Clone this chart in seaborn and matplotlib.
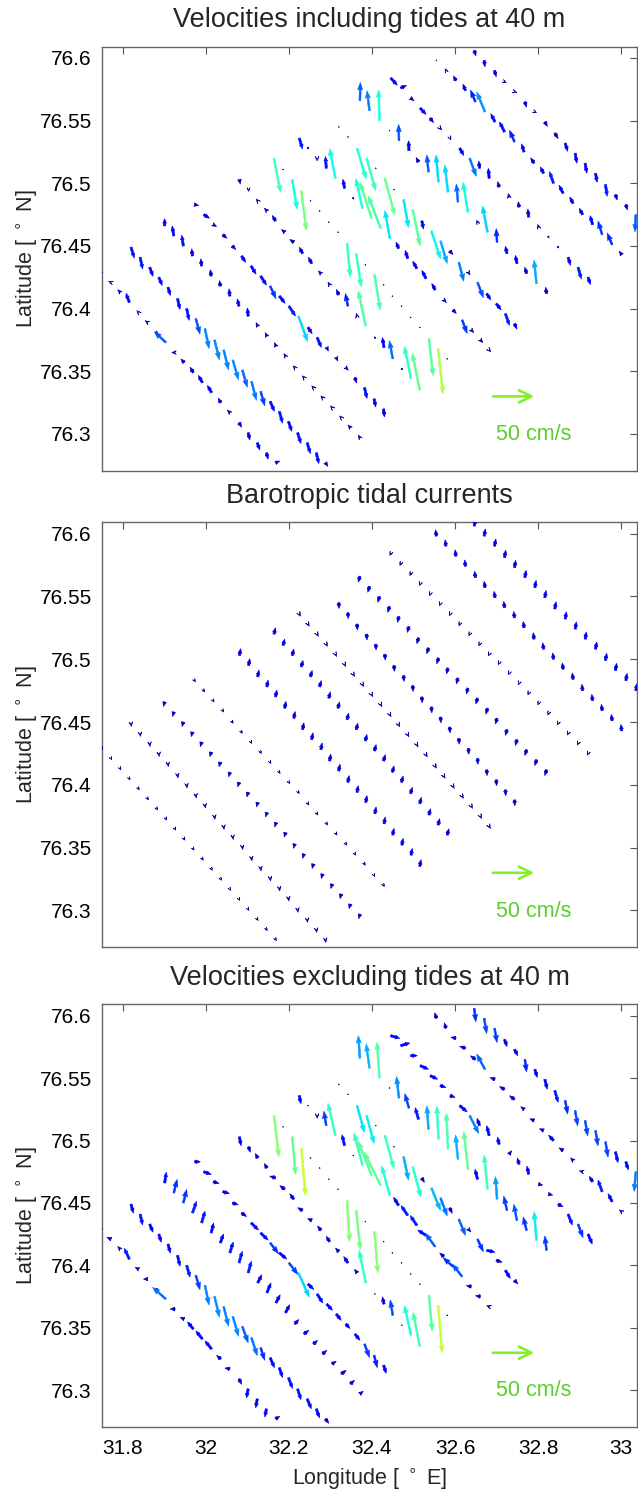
import numpy as np
import pandas as pd
import matplotlib
matplotlib.use("Agg")
import matplotlib.pyplot as plt
import seaborn as sns

# ---------------- text / ticks ----------------
TITLES = ["Velocities including tides at 40 m",
          "Barotropic tidal currents",
          "Velocities excluding tides at 40 m"]
XTICKS = [31.8, 32.0, 32.2, 32.4, 32.6, 32.8, 33.0]
XTICK_LABELS = ["31.8", "32", "32.2", "32.4", "32.6", "32.8", "33"]
YTICKS = [76.3, 76.35, 76.4, 76.45, 76.5, 76.55, 76.6]
YTICK_LABELS = ["76.3", "76.35", "76.4", "76.45", "76.5", "76.55", "76.6"]
KEY_SPEED = 50          # cm/s
KEY_LABEL = "50 cm/s"

# ---------------- station positions (12 transects) ----------------
STN_LON = [
    [31.750, 31.772, 31.794, 31.816, 31.838, 31.860, 31.882, 31.904, 31.926, 31.948, 31.970, 31.992, 32.014, 32.036, 32.058, 32.080, 32.102, 32.124, 32.146, 32.168, 32.190],
    [31.820, 31.842, 31.865, 31.887, 31.909, 31.932, 31.954, 31.976, 31.998, 32.021, 32.043, 32.065, 32.088, 32.110, 32.132, 32.155, 32.177, 32.199, 32.221, 32.244, 32.266, 32.288],
    [31.901, 31.923, 31.946, 31.968, 31.990, 32.013, 32.035, 32.058, 32.080, 32.102, 32.125, 32.147, 32.169, 32.192, 32.214, 32.236, 32.259, 32.281, 32.304, 32.326, 32.348, 32.371],
    [31.973, 31.995, 32.018, 32.041, 32.064, 32.086, 32.109, 32.132, 32.155, 32.177, 32.200, 32.223, 32.246, 32.268, 32.291, 32.314, 32.337, 32.359, 32.382, 32.405, 32.428],
    [32.081, 32.103, 32.125, 32.147, 32.168, 32.190, 32.212, 32.233, 32.255, 32.277, 32.298, 32.320, 32.342, 32.364, 32.385, 32.407, 32.429, 32.450, 32.472, 32.494, 32.515],
    [32.164, 32.186, 32.208, 32.230, 32.252, 32.274, 32.296, 32.318, 32.340, 32.362, 32.384, 32.406, 32.428, 32.449, 32.471, 32.493, 32.515, 32.537, 32.559, 32.581],
    [32.225, 32.246, 32.268, 32.290, 32.312, 32.334, 32.355, 32.377, 32.399, 32.421, 32.443, 32.464, 32.486, 32.508, 32.530, 32.552, 32.573, 32.595, 32.617, 32.639, 32.661, 32.682],
    [32.320, 32.342, 32.364, 32.387, 32.409, 32.431, 32.453, 32.476, 32.498, 32.520, 32.543, 32.565, 32.587, 32.609, 32.632, 32.654, 32.676, 32.699, 32.721, 32.743],
    [32.371, 32.394, 32.418, 32.442, 32.465, 32.489, 32.512, 32.536, 32.560, 32.583, 32.607, 32.631, 32.654, 32.678, 32.701, 32.725, 32.749, 32.772, 32.796, 32.820],
    [32.445, 32.469, 32.493, 32.516, 32.540, 32.564, 32.588, 32.611, 32.635, 32.659, 32.682, 32.706, 32.730, 32.754, 32.777, 32.801, 32.825, 32.848, 32.872, 32.896, 32.920],
    [32.555, 32.578, 32.602, 32.625, 32.649, 32.672, 32.696, 32.719, 32.743, 32.766, 32.790, 32.813, 32.837, 32.860, 32.884, 32.907, 32.931, 32.954, 32.978, 33.001],
    [32.646, 32.670, 32.695, 32.719, 32.743, 32.768, 32.792, 32.816, 32.840, 32.865, 32.889, 32.913, 32.938, 32.962, 32.986, 33.011, 33.035],
]
STN_LAT = [
    [76.429, 76.421, 76.413, 76.405, 76.397, 76.389, 76.381, 76.373, 76.365, 76.357, 76.349, 76.341, 76.333, 76.325, 76.317, 76.309, 76.301, 76.293, 76.285, 76.277, 76.269],
    [76.449, 76.441, 76.433, 76.425, 76.417, 76.408, 76.400, 76.392, 76.384, 76.375, 76.367, 76.359, 76.351, 76.342, 76.334, 76.326, 76.318, 76.310, 76.301, 76.293, 76.285, 76.277],
    [76.466, 76.458, 76.450, 76.442, 76.434, 76.426, 76.418, 76.410, 76.402, 76.394, 76.386, 76.378, 76.370, 76.362, 76.353, 76.345, 76.337, 76.329, 76.321, 76.313, 76.305, 76.297],
    [76.483, 76.475, 76.467, 76.459, 76.450, 76.442, 76.434, 76.426, 76.418, 76.410, 76.402, 76.394, 76.385, 76.377, 76.369, 76.361, 76.353, 76.345, 76.337, 76.328, 76.320],
    [76.503, 76.495, 76.486, 76.478, 76.470, 76.461, 76.453, 76.444, 76.436, 76.428, 76.419, 76.411, 76.402, 76.394, 76.386, 76.377, 76.369, 76.360, 76.352, 76.344, 76.335],
    [76.520, 76.511, 76.503, 76.494, 76.486, 76.478, 76.469, 76.461, 76.452, 76.444, 76.435, 76.427, 76.419, 76.410, 76.402, 76.393, 76.385, 76.376, 76.368, 76.360],
    [76.536, 76.528, 76.520, 76.512, 76.504, 76.496, 76.488, 76.480, 76.472, 76.464, 76.456, 76.448, 76.440, 76.432, 76.424, 76.415, 76.407, 76.399, 76.391, 76.383, 76.375, 76.367],
    [76.545, 76.537, 76.528, 76.520, 76.512, 76.504, 76.495, 76.487, 76.479, 76.470, 76.462, 76.454, 76.446, 76.437, 76.429, 76.421, 76.412, 76.404, 76.396, 76.388],
    [76.566, 76.558, 76.550, 76.542, 76.534, 76.526, 76.517, 76.509, 76.501, 76.493, 76.485, 76.477, 76.469, 76.461, 76.453, 76.444, 76.436, 76.428, 76.420, 76.412],
    [76.584, 76.576, 76.568, 76.560, 76.552, 76.544, 76.536, 76.528, 76.520, 76.512, 76.504, 76.497, 76.489, 76.481, 76.473, 76.465, 76.457, 76.449, 76.441, 76.433, 76.425],
    [76.598, 76.590, 76.582, 76.574, 76.565, 76.557, 76.549, 76.541, 76.533, 76.525, 76.516, 76.508, 76.500, 76.492, 76.484, 76.475, 76.467, 76.459, 76.451, 76.443],
    [76.606, 76.598, 76.590, 76.581, 76.573, 76.565, 76.557, 76.549, 76.540, 76.532, 76.524, 76.516, 76.508, 76.499, 76.491, 76.483, 76.475],
]

# ---------------- velocities including tides (cm/s) ----------------
U_TOTAL = [
    [1, -3, -3, -4, -2, -3, 1, -14, -4, -4, -4, -5, -5, -3, -3, 3, 2, 3, 2, 5, 1],
    [4, 3, 4, 4, 3, 3, 3, 5, 5, 6, 6, 7, 6, 6, 5, 5, 4, 4, 4, 4, 3, 3],
    [0, -2, -2, -1, -1, -1, -1, -1, -2, -1, -2, -2, -2, -2, -2, -2, -2, -2, -2, -2, -3, -2],
    [5, 7, 4, 5, 4, 5, 6, 7, 7, 7, 8, 11, 5, 5, 2, 2, 3, 2, 3, 2, 1],
    [1, 0, -2, -3, -4, -4, -5, -4, -4, -3, -2, -3, -3, -1, -9, 0, -2, -4, 0, -8, -9],
    [8, 0.4, 6, 6, 0.4, 0.4, 0.4, 0.4, 4, 6, 0.4, 7, 0.4, 0.4, 0.4, 0.4, 0.4, 5, 6, 0.4],
    [4, 0.4, 0, -1, -7, -2, 0.4, -8, -14, -15, -6, -3, -3, -5, -5, -4, 3, 4, 6, 3, 3, 2],
    [0.4, 0.4, 11, 11, 0.4, 12, 0.4, 6, 9, 2, 11, 8, 4, 6, 2, 7, 5, 6, 5, 3],
    [0.5, -3, -1, 0.3, -0.4, -0.4, -3, -2, -3, -4, -2, -6, -1, -6, -1, -2, -2, -2, -3, -1],
    [8, 7, 4, 7, 4, 2, 1, 5, 8, -1, -1, -2, -1, -1, -1, -1, 0.5, 0.5, 3, 4, 3],
    [0.3, -1, -3, -3, -6, -10, -5, -6, -6, -3, -4, -4, -5, -5, -4, -4, -3, -5, -6, -3],
    [2, 1, 2, 2, 3, 2, 2, 3, 4, 3, 2, 2, 2, 2, 2, 2, -1],
]
V_TOTAL = [
    [0, 1, 3, 10, 2, 2, -1, 12, 0, 4, 6, 8, 8, 5, 3, -5, -8, -8, -7, 2, -1],
    [-12, -13, -10, -9, -9, -12, -13, -17, -22, -22, -22, -22, -19, -21, -16, -11, -13, -11, -12, -12, -12, -4],
    [8, 11, 12, 8, 8, 7, 6, 8, 8, 9, 4, 4, 4, 3, 2, 2, 2, 2, 2, 2, 3, 3],
    [-1, -4, -2, -4, -4, -7, -9, -10, -14, -8, -11, -28, -7, -11, -4, -4, -3, -6, -12, -9, -9],
    [-5, -2, 2, 3, 6, 3, 3, 7, 7, 3, 3, 6, 14, 3, 39, 1, 11, 20, 1, 36, 41],
    [-38, -0.6, -33, -44, -0.6, -0.6, -0.6, -0.6, -37, -37, -0.6, -39, -0.6, -0.6, -0.6, -0.6, -0.6, -41, -50, -0.6],
    [-12, -1, -3, 13, 33, 10, -1, 33, 40, 36, 31, 7, 9, 8, 9, 7, -3, -4, -15, -3, -3, -2],
    [-0.6, -0.6, -34, -36, -0.6, -41, -0.6, -31, -40, -9, -31, -25, -4, -21, -3, -17, -7, -7, -13, -6],
    [20, 22, 34, 0.5, 18, 11, 5, 19, 30, 30, 20, 33, 2, 29, 15, 8, 9, 7, 26, 7],
    [-8, 3, -3, -7, -5, -2, -2, -8, -20, 8, 11, 6, 4, 6, 9, 3, -1, -1, -9, -13, -8],
    [0.5, 2, 5, 7, 13, 22, 9, 11, 13, 9, 6, 7, 13, 9, 7, 7, 10, 15, 13, 4],
    [-6, -7, -7, -1, -1, -6, -1, -5, -6, -9, -11, -11, -10, -13, -6, -6, -19],
]

# ---------------- barotropic tidal currents (cm/s) ----------------
U_TIDE = [
    [1, 1, 1, 1, 1, 1, 1, 1, 1, 1, 1, 1, 1, 1, 1, 1, 1, 1, 1, 1, 1],
    [0.5, 0.5, 0.5, 0.5, 0.5, 0.5, 0.5, 0.5, 0.5, 0.5, 0.5, 0.5, 0.5, 0.5, 0.5, 0.5, 0.5, 0.5, 0.5, 0.5, 0.5, 0.5],
    [-1.5, -1.5, -1.5, -1.5, -1.5, -1.5, -1.5, -1.5, -1.5, -1.5, -1.5, -1.5, -1.5, -1.5, -1.5, -1.5, -1.5, -1.5, -1.5, -1.5, -1.5, -1.5],
    [1, 1, 1, 1, 1, 1, 1, 1, 1, 1, 1, 1, 1, 1, 1, 1, 1, 1, 1, 1, 1],
    [1.5, 1.5, 1.5, 1.5, 1.5, 1.5, 1.5, 1.5, 1.5, 1.5, 1.5, 1.5, 1.5, 1.5, 1.5, 1.5, 1.5, 1.5, 1.5, 1.5, 1.5],
    [2, 2, 2, 2, 2, 2, 2, 2, 2, 2, 2, 2, 2, 2, 2, 2, 2, 2, 2, 2],
    [1.5, 1.5, 1.5, 1.5, 1.5, 1.5, 1.5, 1.5, 1.5, 1.5, 1.5, 1.5, 1.5, 1.5, 1.5, 1.5, 1.5, 1.5, 1.5, 1.5, 1.5, 1.5],
    [0.5, 0.5, 0.5, 0.5, 0.5, 0.5, 0.5, 0.5, 0.5, 0.5, 0.5, 0.5, 0.5, 0.5, 0.5, 0.5, 0.5, 0.5, 0.5, 0.5],
    [-2, -2, -2, -2, -2, -2, -2, -2, -2, -2, -2, -2, -2, -2, -2, -2, -2, -2, -2, -2],
    [-1, -1, -1, -1, -1, -1, -1, -1, -1, -1, -1, -1, -1, -1, -1, -1, -1, -1, -1, -1, -1],
    [-1, -1, -1, -1, -1, -1, -1, -1, -1, -1, -1, -1, -1, -1, -1, -1, -1, -1, -1, -1],
    [1.5, 1.5, 1.5, 1.5, 1.5, 1.5, 1.5, 1.5, 1.5, 1.5, 1.5, 1.5, 1.5, 1.5, 1.5, 1.5, 1.5],
]
V_TIDE = [
    [-1.5, -1.5, -1.5, -1.5, -1.5, -1.5, -1.5, -1.5, -1.5, -1.5, -1.5, -1.5, -1.5, -1.5, -1.5, -1.5, -1.5, -1.5, -1.5, -1.5, -1.5],
    [-3.5, -3.5, -3.5, -3.5, -3.5, -3.5, -3.5, -3.5, -3.5, -3.5, -3.5, -3.5, -3.5, -3.5, -3.5, -3.5, -3.5, -3.5, -3.5, -3.5, -3.5, -3.5],
    [-5, -5, -5, -5, -5, -5, -5, -5, -5, -5, -5, -5, -5, -5, -5, -5, -5, -5, -5, -5, -5, -5],
    [-1.5, -1.5, -1.5, -1.5, -1.5, -1.5, -1.5, -1.5, -1.5, -1.5, -1.5, -1.5, -1.5, -1.5, -1.5, -1.5, -1.5, -1.5, -1.5, -1.5, -1.5],
    [7.5, 7.5, 7.5, 7.5, 7.5, 7.5, 7.5, 7.5, 7.5, 7.5, 7.5, 7.5, 7.5, 7.5, 7.5, 7.5, 7.5, 7.5, 7.5, 7.5, 7.5],
    [7, 7, 7, 7, 7, 7, 7, 7, 7, 7, 7, 7, 7, 7, 7, 7, 7, 7, 7, 7],
    [-2.5, -2.5, -2.5, -2.5, -2.5, -2.5, -2.5, -2.5, -2.5, -2.5, -2.5, -2.5, -2.5, -2.5, -2.5, -2.5, -2.5, -2.5, -2.5, -2.5, -2.5, -2.5],
    [-6.5, -6.5, -6.5, -6.5, -6.5, -6.5, -6.5, -6.5, -6.5, -6.5, -6.5, -6.5, -6.5, -6.5, -6.5, -6.5, -6.5, -6.5, -6.5, -6.5],
    [-6.5, -6.5, -6.5, -6.5, -6.5, -6.5, -6.5, -6.5, -6.5, -6.5, -6.5, -6.5, -6.5, -6.5, -6.5, -6.5, -6.5, -6.5, -6.5, -6.5],
    [-2, -2, -2, -2, -2, -2, -2, -2, -2, -2, -2, -2, -2, -2, -2, -2, -2, -2, -2, -2, -2],
    [7, 7, 7, 7, 7, 7, 7, 7, 7, 7, 7, 7, 7, 7, 7, 7, 7, 7, 7, 7],
    [8, 8, 8, 8, 8, 8, 8, 8, 8, 8, 8, 8, 8, 8, 8, 8, 8],
]

# ---------------- velocities excluding tides (cm/s) ----------------
U_RESID = [
    [0.5, -5, -3, -6, -4, -5, -1, -16, -6, -5, -7, -8, -8, -5, -6, 3, -2, -2, -2, 5, 2],
    [3, 3, 4, 3, 3, 3, 4, 5, 5, 6, 6, 7, 7, 7, 5, 5, 4, 5, 4, 5, 4, 4],
    [2, 4, 4, 5, 4, 3, 4, 4, 4, 4, 5, 5, 5, 5, 5, 6, 5, 5, 5, 6, 5, 4],
    [7, 9, 7, 8, 7, 6, 9, 9, 10, 9, 11, 13, 7, 7, 7, 6, 5, 6, 6, 4, 3],
    [2, 2, -3, -3, -7, -6, -5, -6, -5, -4, -4, -4, -5, -3, -8, 0.3, -2, -3, 0.3, -8, -8],
    [6, 0.4, 4, 5, 0.4, 0.4, 0.4, 0.4, 3, 5, 0.4, 4, 0.4, 0.4, 0.4, 0.4, 0.4, 4, 5, 0.4],
    [2, 0.4, 0, -3, -9, -3, 0.4, -10, -16, -20, -10, -6, -8, -8, -10, -12, -5, -12, -12, -6, -6, -3],
    [0.4, 0.4, 9, 9, 0.4, 11, 0.4, 6, 10, 3, 11, 8, 3, 8, 3, 7, 10, 7, 6, 4],
    [-2, -4, -3, 0.3, -3, -5, -4, -2, -2, -2, -3, -5, -3, -4, -2, -4, -4, -4, -3, -2],
    [11, 11, 8, 10, 9, 7, 6, 9, 11, -3, -3, -2, 3, -2, -2, 5, 5, 6, 5, 6, 5],
    [-2, -2, -6, -7, -6, -10, -6, -6, -6, -4, -5, -5, -6, -5, -3, -4, -4, -5, -5, -3],
    [2, 3, 3, 3, 4, 2, 3, 3, 4, 3, 3, 3, 3, 3, 3, 3, -2],
]
V_RESID = [
    [0.3, 2, 3, 12, 2, 0, 1, 13, 0, 2, 8, 9, 9, 4, 1, -6, -10, -10, -9, 3, 1],
    [-10, -12, -9, -9, -10, -12, -13, -16, -22, -23, -22, -22, -18, -20, -14, -11, -11, -12, -12, -11, -10, -5],
    [12, 15, 15, 13, 13, 11, 10, 12, 13, 13, 9, 11, 9, 9, 5, 4, 4, 4, 3, 4, 4, 3],
    [0, -3, -2, -2, -2, -4, -8, -8, -12, -7, -13, -27, -6, -10, -7, -7, -5, -7, -15, -14, -9],
    [-10, -6, 5, 5, 2, 4, 6, 3, 2, 5, 6, 4, 7, 4, 36, 0.5, 8, 17, 0.5, 33, 38],
    [-46, -0.6, -42, -53, -0.6, -0.6, -0.6, -0.6, -46, -44, -0.6, -46, -0.6, -0.6, -0.6, -0.6, -0.6, -40, -53, -0.6],
    [-9, -0.6, -3, 16, 36, 12, -0.6, 36, 38, 37, 33, 9, 11, 11, 6, 15, 4, 10, 14, 1, 1, 1],
    [-0.6, -0.6, -30, -31, -0.6, -37, -0.6, -26, -34, -5, -25, -20, -6, -18, -3, -14, -2, -2, -9, -4],
    [25, 27, 40, 0.5, 24, 16, 13, 26, 37, 40, 27, 42, 11, 38, 25, 16, 18, 15, 32, 16],
    [-3, 3, 0, -4, -4, -2, -2, -7, -20, 8, 11, 8, 4, 7, 9, -1, -1, -3, -12, -15, -11],
    [6, 6, 1, 2, 4, 17, 2, 3, 4, 3, 2, 2, 6, 3, 3, 1, 6, 13, 9, 2],
    [-15, -17, -16, -8, -7, -14, -9, -11, -13, -15, -17, -17, -17, -17, -12, -9, -22],
]

PANELS = [(U_TOTAL, V_TOTAL), (U_TIDE, V_TIDE), (U_RESID, V_RESID)]


def panel_frame(U, V):
    rows = []
    for t, (lons, lats, us, vs) in enumerate(zip(STN_LON, STN_LAT, U, V)):
        for lo, la, u, v in zip(lons, lats, us, vs):
            rows.append((t + 1, lo, la, u, v))
    df = pd.DataFrame(rows, columns=["transect", "lon", "lat", "u", "v"])
    df["speed"] = np.hypot(df["u"], df["v"])
    return df


# ---------------- style ----------------
sns.set_theme(style="white")
plt.rcParams["font.family"] = ["Liberation Sans", "DejaVu Sans"]
plt.rcParams["mathtext.fontset"] = "dejavusans"

# display scale of arrows (degrees per cm/s)
SX = 0.002
SY = 0.00072

cmap = matplotlib.colormaps["jet"]
norm = plt.Normalize(0, 90)

fig = plt.figure(figsize=(6.38, 14.91), dpi=100)
rects = [[0.1594, 0.6843, 0.8398, 0.2844],
         [0.1594, 0.3647, 0.8398, 0.2850],
         [0.1594, 0.0431, 0.8398, 0.2832]]

for i, ((U, V), title, rect) in enumerate(zip(PANELS, TITLES, rects)):
    ax = fig.add_axes(rect)
    df = panel_frame(U, V)
    long_ = df[df["speed"] >= 14]
    short = df[df["speed"] < 14]
    # short arrows: dash-like with a slim head
    ax.quiver(short["lon"], short["lat"], short["u"] * SX, short["v"] * SY,
              short["speed"], cmap=cmap, norm=norm, angles="xy",
              scale_units="xy", scale=1, pivot="tail", width=0.0042,
              headwidth=1.6, headlength=2.0, headaxislength=1.8,
              minshaft=0.5, minlength=0.4, linewidth=0.4, edgecolor="face",
              zorder=3)
    # long arrows: visible heads
    ax.quiver(long_["lon"], long_["lat"], long_["u"] * SX, long_["v"] * SY,
              long_["speed"], cmap=cmap, norm=norm, angles="xy",
              scale_units="xy", scale=1, pivot="tail", width=0.0034,
              headwidth=2.8, headlength=4.0, headaxislength=3.6,
              linewidth=0.4, edgecolor="face", zorder=4)
    ax.set_xlim(31.7495, 33.039)
    ax.set_ylim(76.2707, 76.609)
    ax.set_xticks(XTICKS)
    ax.set_yticks(YTICKS)
    ax.set_yticklabels(YTICK_LABELS)
    if i == 2:
        ax.set_xticklabels(XTICK_LABELS)
        ax.set_xlabel("Longitude [ $^\\circ$ E]", fontsize=15.5, labelpad=6)
    else:
        ax.set_xticklabels([])
    ax.set_ylabel("Latitude [ $^\\circ$ N]", fontsize=15.5)
    ax.yaxis.set_label_coords(-0.116, 0.5)
    ax.set_title(title, fontsize=19.5, pad=14)
    ax.tick_params(direction="in", length=5, width=0.8, top=True, right=True,
                   labelsize=15, color="#555555", labelcolor="black", pad=7)
    ax.tick_params(axis="x", pad=9)
    for sp in ax.spines.values():
        sp.set_color("#666666")
        sp.set_linewidth(1.0)
    ax.grid(False)
    # scale key
    x0, y0 = 32.6905, 76.330
    ax.annotate("", xy=(x0 + KEY_SPEED * SX, y0), xytext=(x0, y0),
                arrowprops=dict(arrowstyle="->,head_length=0.45,head_width=0.22",
                                color="#80f020", lw=1.8, mutation_scale=20,
                                shrinkA=0, shrinkB=0))
    ax.text(32.698, 76.2995, KEY_LABEL, color="#5ccf2c", fontsize=15.5,
            ha="left", va="center")

fig.savefig("out.png", dpi=100)
